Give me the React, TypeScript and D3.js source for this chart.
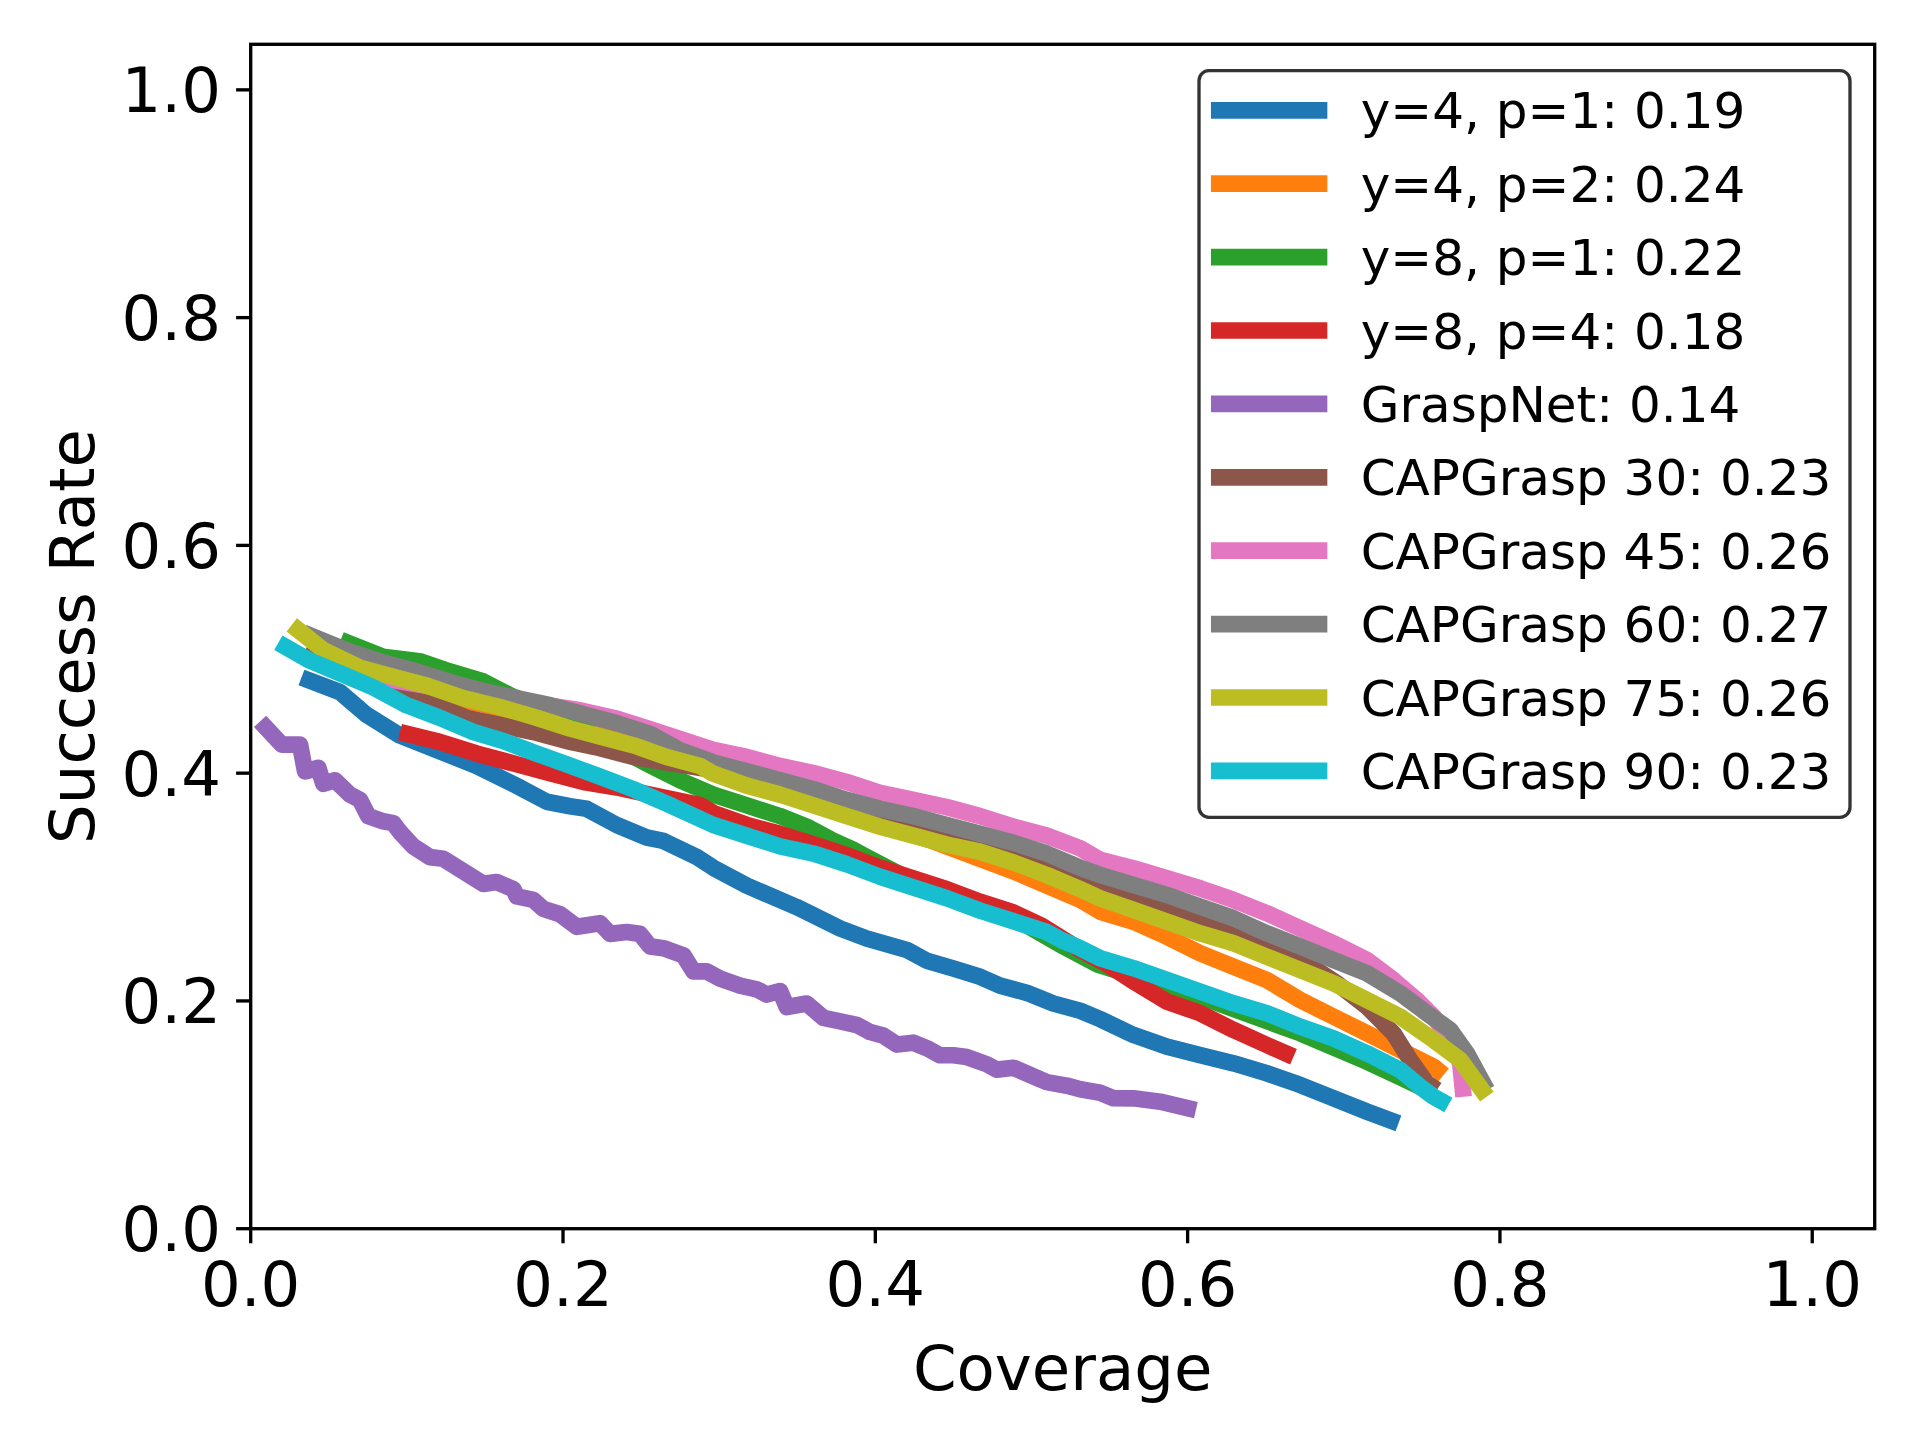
import React from "react";
import * as d3 from "d3";

// coverage / success-rate pairs
const y4p1: [number, number][] = [
  [0.0325, 0.484], [0.0572, 0.4712], [0.0743, 0.4511], [0.0956, 0.433], [0.119, 0.4204],
  [0.1447, 0.4063], [0.1725, 0.3874], [0.1896, 0.3749], [0.2045, 0.3709], [0.2152, 0.3687],
  [0.2344, 0.3545], [0.2536, 0.3435], [0.2643, 0.3405], [0.2857, 0.3263], [0.2963, 0.3169],
  [0.3177, 0.3012], [0.3497, 0.2824], [0.3775, 0.2636], [0.3945, 0.2548], [0.4202, 0.2448],
  [0.433, 0.2353], [0.45, 0.2284], [0.4671, 0.2212], [0.4799, 0.2134], [0.497, 0.2071],
  [0.514, 0.1977], [0.5312, 0.1914], [0.544, 0.184], [0.5653, 0.1701], [0.5867, 0.1598],
  [0.608, 0.1525], [0.6294, 0.1452], [0.6507, 0.1365], [0.6721, 0.1262], [0.6934, 0.1145],
  [0.7148, 0.1028], [0.735, 0.0925],
];
const y4p2: [number, number][] = [
  [0.04, 0.508], [0.085, 0.477], [0.15, 0.46], [0.2, 0.442], [0.25, 0.424], [0.3, 0.402],
  [0.34, 0.387], [0.3817, 0.37], [0.4031, 0.3577], [0.445, 0.336], [0.4885, 0.3138],
  [0.5098, 0.3012], [0.5312, 0.2887], [0.544, 0.2784], [0.5653, 0.2696], [0.5867, 0.2564],
  [0.608, 0.2419], [0.6294, 0.2301], [0.6507, 0.2184], [0.6721, 0.2008], [0.6934, 0.1862],
  [0.7148, 0.1716], [0.7361, 0.1569], [0.7575, 0.1423], [0.7639, 0.135],
];
const y8p1: [number, number][] = [
  [0.0576, 0.517], [0.0847, 0.5023], [0.1091, 0.498], [0.1277, 0.4892], [0.1491, 0.4804],
  [0.1677, 0.4672], [0.1848, 0.4584], [0.22, 0.433], [0.2534, 0.4087], [0.275, 0.3937],
  [0.2963, 0.3812], [0.3177, 0.3717], [0.339, 0.3623], [0.3561, 0.353], [0.3711, 0.342],
  [0.386, 0.3326], [0.3945, 0.3263], [0.4244, 0.305], [0.4671, 0.283], [0.4885, 0.273],
  [0.5205, 0.2479], [0.5419, 0.2322], [0.5653, 0.222], [0.608, 0.2037], [0.6721, 0.1716],
  [0.7148, 0.1467], [0.7361, 0.133], [0.7575, 0.1189],
];
const y8p4: [number, number][] = [
  [0.0956, 0.4361], [0.1191, 0.4282], [0.1447, 0.4172], [0.1703, 0.4078], [0.1874, 0.4016],
  [0.2131, 0.3922], [0.2344, 0.3875], [0.2557, 0.3812], [0.2878, 0.3718], [0.2963, 0.365],
  [0.3177, 0.3545], [0.339, 0.3467], [0.3604, 0.3373], [0.3817, 0.3279], [0.4031, 0.3169],
  [0.4244, 0.3075], [0.4458, 0.2981], [0.4671, 0.2871], [0.4885, 0.2777], [0.5056, 0.2667],
  [0.5205, 0.2541], [0.5312, 0.2448], [0.5483, 0.2322], [0.5632, 0.219], [0.5867, 0.1994],
  [0.608, 0.1892], [0.6294, 0.1745], [0.6507, 0.1613], [0.6678, 0.151],
];
const graspNet: [number, number][] = [
  [0.006, 0.4455], [0.0199, 0.4251], [0.0316, 0.4251], [0.0348, 0.4016], [0.0433, 0.4047],
  [0.0465, 0.3906], [0.054, 0.3937], [0.0636, 0.3811], [0.07, 0.3765], [0.0753, 0.3623],
  [0.0849, 0.3577], [0.0913, 0.3561], [0.0956, 0.3483], [0.1041, 0.3357], [0.1148, 0.3263],
  [0.1234, 0.3248], [0.1362, 0.3138], [0.149, 0.3028], [0.1575, 0.3044], [0.1682, 0.2981],
  [0.1704, 0.2918], [0.181, 0.2887], [0.1874, 0.2808], [0.1981, 0.2761], [0.2088, 0.2651],
  [0.2237, 0.2683], [0.2301, 0.2589], [0.2408, 0.2605], [0.2493, 0.2589], [0.2557, 0.2479],
  [0.2643, 0.2463], [0.2771, 0.2401], [0.2835, 0.226], [0.292, 0.226], [0.3006, 0.2196],
  [0.3134, 0.2134], [0.3241, 0.2102], [0.3305, 0.2056], [0.339, 0.2087], [0.3433, 0.1946],
  [0.3561, 0.1977], [0.3668, 0.1851], [0.3775, 0.182], [0.3881, 0.1789], [0.3967, 0.1727],
  [0.4052, 0.1695], [0.4138, 0.1617], [0.4244, 0.1633], [0.433, 0.1585], [0.4415, 0.1523],
  [0.45, 0.1523], [0.4586, 0.1507], [0.4714, 0.1444], [0.4778, 0.1397], [0.4885, 0.1413],
  [0.4992, 0.135], [0.5098, 0.1287], [0.5227, 0.1256], [0.5312, 0.1224], [0.544, 0.1193],
  [0.5525, 0.1146], [0.5653, 0.1145], [0.5824, 0.1115], [0.6053, 0.1042],
];
const cap30: [number, number][] = [
  [0.035, 0.508], [0.06, 0.492], [0.0956, 0.4699], [0.117, 0.4611], [0.1383, 0.4486],
  [0.1596, 0.4423], [0.181, 0.4361], [0.2024, 0.4282], [0.2237, 0.422], [0.2451, 0.4142],
  [0.3, 0.402], [0.35, 0.385], [0.4, 0.365], [0.45, 0.345], [0.5, 0.322], [0.544, 0.3],
  [0.5931, 0.2784], [0.6294, 0.2608], [0.6614, 0.2419], [0.6827, 0.2272], [0.695, 0.216],
  [0.7148, 0.195], [0.7318, 0.1716], [0.7425, 0.1482], [0.7532, 0.1277], [0.7596, 0.1218],
];
const cap45: [number, number][] = [
  [0.04, 0.515], [0.09, 0.482], [0.15, 0.468], [0.2088, 0.4557], [0.2344, 0.4479],
  [0.2557, 0.4385], [0.2963, 0.4204], [0.3177, 0.4142], [0.339, 0.4063], [0.3604, 0.4],
  [0.3817, 0.3922], [0.4031, 0.3827], [0.4244, 0.3765], [0.4458, 0.3702], [0.4671, 0.3623],
  [0.4885, 0.353], [0.5098, 0.3451], [0.5312, 0.3341], [0.544, 0.3238], [0.5653, 0.3165],
  [0.5867, 0.3077], [0.608, 0.2989], [0.6294, 0.2887], [0.6507, 0.277], [0.6721, 0.2638],
  [0.6934, 0.2506], [0.7148, 0.236], [0.7318, 0.2184], [0.7468, 0.2008], [0.7575, 0.1862],
  [0.7682, 0.1657], [0.7746, 0.1452], [0.7767, 0.1159],
];
const cap60: [number, number][] = [
  [0.0337, 0.5232], [0.0636, 0.5066], [0.0849, 0.4972], [0.1063, 0.4894], [0.1276, 0.48],
  [0.149, 0.4721], [0.1703, 0.4659], [0.1917, 0.4596], [0.2131, 0.4517], [0.2344, 0.4439],
  [0.2557, 0.4345], [0.275, 0.42], [0.2963, 0.4094], [0.3177, 0.4016], [0.339, 0.3937],
  [0.3604, 0.3859], [0.3817, 0.3765], [0.4031, 0.3687], [0.4244, 0.3623], [0.4458, 0.3545],
  [0.4671, 0.3467], [0.4885, 0.3388], [0.5098, 0.3294], [0.5312, 0.3169], [0.544, 0.3106],
  [0.5653, 0.3018], [0.5867, 0.2931], [0.608, 0.2828], [0.6294, 0.2726], [0.6507, 0.2594],
  [0.6721, 0.2477], [0.6934, 0.236], [0.7148, 0.2243], [0.7361, 0.2067], [0.7532, 0.1892],
  [0.7682, 0.1745], [0.7788, 0.154], [0.7916, 0.1218],
];
const cap75: [number, number][] = [
  [0.0263, 0.5302], [0.0465, 0.5082], [0.07, 0.4925], [0.0913, 0.4847], [0.1127, 0.4769],
  [0.136, 0.4659], [0.1596, 0.4581], [0.1831, 0.4486], [0.2045, 0.4392], [0.2258, 0.4314],
  [0.2472, 0.4236], [0.2664, 0.4142], [0.2878, 0.4063], [0.2963, 0.3995], [0.3177, 0.389],
  [0.339, 0.3812], [0.3604, 0.3717], [0.3817, 0.3623], [0.4031, 0.353], [0.4244, 0.3451],
  [0.4458, 0.3373], [0.4671, 0.331], [0.4885, 0.3216], [0.5098, 0.3106], [0.5312, 0.2981],
  [0.544, 0.2901], [0.5653, 0.2799], [0.5867, 0.2696], [0.608, 0.2594], [0.6294, 0.2506],
  [0.6507, 0.2389], [0.6721, 0.2272], [0.6934, 0.2155], [0.7148, 0.2008], [0.7361, 0.1862],
  [0.7575, 0.1657], [0.7746, 0.1482], [0.7916, 0.1159],
];
const cap90: [number, number][] = [
  [0.0177, 0.5145], [0.0379, 0.4988], [0.0572, 0.4878], [0.0785, 0.4753], [0.0999, 0.4596],
  [0.1212, 0.4486], [0.1426, 0.4361], [0.1618, 0.4282], [0.1831, 0.4172], [0.2024, 0.4078],
  [0.2237, 0.3969], [0.2451, 0.3859], [0.2664, 0.3733], [0.2963, 0.3545], [0.3177, 0.3451],
  [0.339, 0.3357], [0.3604, 0.3294], [0.3817, 0.32], [0.4031, 0.309], [0.4244, 0.2996],
  [0.4458, 0.2902], [0.4671, 0.2793], [0.4885, 0.2699], [0.5098, 0.2605], [0.5205, 0.2526],
  [0.5312, 0.2463], [0.544, 0.2375], [0.5653, 0.2287], [0.5867, 0.2184], [0.608, 0.2081],
  [0.6294, 0.1979], [0.6507, 0.1892], [0.6721, 0.1774], [0.6934, 0.1672], [0.7148, 0.154],
  [0.7361, 0.1394], [0.7489, 0.1247], [0.7575, 0.1159], [0.767, 0.1086],
];

const seriesData = [y4p1, y4p2, y8p1, y8p4, graspNet, cap30, cap45, cap60, cap75, cap90];
const seriesLabels = [
  "y=4, p=1: 0.19",
  "y=4, p=2: 0.24",
  "y=8, p=1: 0.22",
  "y=8, p=4: 0.18",
  "GraspNet: 0.14",
  "CAPGrasp 30: 0.23",
  "CAPGrasp 45: 0.26",
  "CAPGrasp 60: 0.27",
  "CAPGrasp 75: 0.26",
  "CAPGrasp 90: 0.23",
];
const tickValues = [0, 0.2, 0.4, 0.6, 0.8, 1.0];

const W = 1921;
const H = 1440;
const left = 250.7, right = 1874.7, top = 44.3, bottom = 1228.7;
const font = "'DejaVu Sans', sans-serif";

export default function App() {
  const x = d3.scaleLinear().domain([0, 1.04]).range([left, right]);
  const y = d3.scaleLinear().domain([0, 1.04]).range([bottom, top]);
  const color = d3.scaleOrdinal<number, string>().domain(d3.range(10)).range(d3.schemeCategory10);
  const line = d3.line<[number, number]>().x(d => x(d[0])).y(d => y(d[1]));
  const fmt = d3.format(".1f");

  // legend layout
  const lgX = 1199, lgY = 70.7, lgW = 651, lgH = 746.6;
  const rowY = (i: number) => 110.3 + i * 73.4;

  return (
    <svg width={W} height={H} style={{ position: "absolute", left: 0, top: 0, background: "#fff" }} fontFamily={font}>
      <rect width={W} height={H} fill="#fff" />
      <defs>
        <clipPath id="plotclip">
          <rect x={left} y={top} width={right - left} height={bottom - top} />
        </clipPath>
      </defs>
      <g clipPath="url(#plotclip)">
        {seriesData.map((s, i) => (
          <path key={i} d={line(s) || ""} fill="none" stroke={color(i)} strokeWidth={16.7}
            strokeLinecap="butt" strokeLinejoin="round" />
        ))}
      </g>
      <rect x={left} y={top} width={right - left} height={bottom - top} fill="none" stroke="#000" strokeWidth={3.33} />
      {tickValues.map(t => (
        <g key={"x" + t}>
          <line x1={x(t)} x2={x(t)} y1={bottom} y2={bottom + 14.6} stroke="#000" strokeWidth={3.33} />
          <text x={x(t)} y={1306} fontSize={62.5} textAnchor="middle">{fmt(t)}</text>
        </g>
      ))}
      {tickValues.map(t => (
        <g key={"y" + t}>
          <line x1={left - 14.6} x2={left} y1={y(t)} y2={y(t)} stroke="#000" strokeWidth={3.33} />
          <text x={221} y={y(t)} dy="0.36em" fontSize={62.5} textAnchor="end">{fmt(t)}</text>
        </g>
      ))}
      <text x={(left + right) / 2} y={1390} fontSize={62.5} textAnchor="middle">Coverage</text>
      <text transform={`translate(94,${(top + bottom) / 2}) rotate(-90)`} fontSize={62.5} textAnchor="middle">Success Rate</text>
      <g>
        <rect x={lgX} y={lgY} width={lgW} height={lgH} rx={10} ry={10} fill="#fff" stroke="#333" strokeWidth={3.33} />
        {seriesLabels.map((lab, i) => (
          <g key={lab}>
            <line x1={1219.3} x2={1319} y1={rowY(i)} y2={rowY(i)} stroke={color(i)} strokeWidth={16.7} strokeLinecap="square" />
            <text x={1360.7} y={rowY(i) + 18} fontSize={50}>{lab}</text>
          </g>
        ))}
      </g>
    </svg>
  );
}
